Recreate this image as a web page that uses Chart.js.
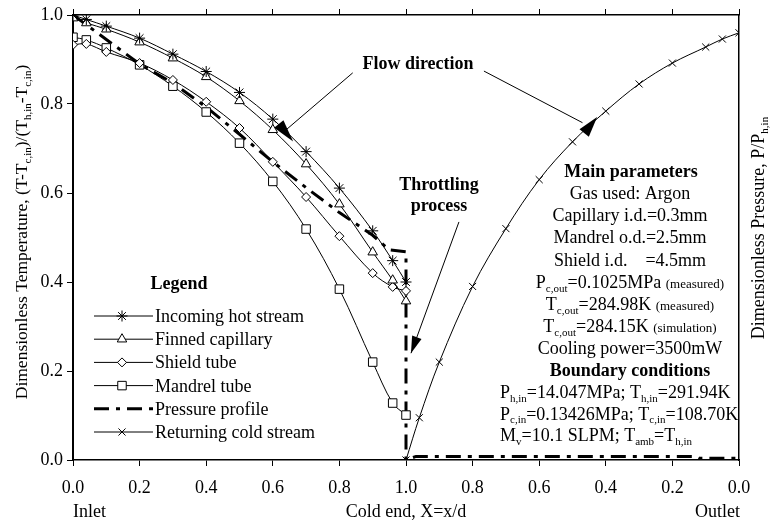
<!DOCTYPE html>
<html>
<head>
<meta charset="utf-8">
<script src="https://cdn.jsdelivr.net/npm/chart.js@4.4.1/dist/chart.umd.min.js"></script>
<style>
  html, body { margin: 0; padding: 0; background: #fff; }
</style>
</head>
<body>
<canvas id="chart" width="770" height="522"></canvas>
<script>
// x runs 0..1 from inlet to cold end, then 1..2 from cold end back to outlet
const xTickValues = [0, 0.2, 0.4, 0.6, 0.8, 1.0, 1.2, 1.4, 1.6, 1.8, 2.0];
const xTickLabels = ['0.0', '0.2', '0.4', '0.6', '0.8', '1.0', '0.8', '0.6', '0.4', '0.2', '0.0'];
const yTickValues = [0, 0.2, 0.4, 0.6, 0.8, 1.0];

const xTemp = [0, 0.04, 0.1, 0.2, 0.3, 0.4, 0.5, 0.6, 0.7, 0.8, 0.9, 0.96, 1.0];
const hotStream = [1.0, 0.99, 0.975, 0.948, 0.912, 0.873, 0.826, 0.766, 0.693, 0.611, 0.515, 0.448, 0.40];
const finnedCapillary = [0.993, 0.982, 0.968, 0.939, 0.903, 0.861, 0.807, 0.742, 0.665, 0.575, 0.467, 0.404, 0.357];
const shieldTube = [0.933, 0.935, 0.917, 0.892, 0.854, 0.805, 0.746, 0.670, 0.591, 0.503, 0.420, 0.389, 0.380];
const mandrelTube = [0.95, 0.944, 0.926, 0.888, 0.840, 0.782, 0.712, 0.626, 0.519, 0.384, 0.220, 0.128, 0.101];

const xPressure = [0, 0.1, 0.2, 0.3, 0.4, 0.5, 0.6, 0.7, 0.8, 0.9, 0.95, 1.0, 1.0, 1.03, 1.87, 1.88, 2.0];
const pressure = [1.0, 0.945, 0.89, 0.847, 0.793, 0.732, 0.67, 0.612, 0.556, 0.505, 0.472, 0.468, 0.0, 0.008, 0.008, 0.004, 0.004];

const xCold = [1.0, 1.04, 1.1, 1.2, 1.3, 1.4, 1.5, 1.6, 1.7, 1.8, 1.9, 1.95, 2.0];
const coldStream = [0.0, 0.095, 0.22, 0.39, 0.52, 0.63, 0.715, 0.784, 0.845, 0.892, 0.928, 0.946, 0.96];

const SERIF = '"Liberation Serif", "DejaVu Serif", serif';
const PRESSURE_DASH = [15, 7, 4, 7];

function pts(xs, ys) {
    return xs.map((x, i) => ({ x, y: ys[i] }));
}

function series(label, xs, ys, pointStyle, radius) {
    return {
        label,
        data: pts(xs, ys),
        showLine: true,
        borderColor: '#000',
        borderWidth: 1,
        tension: 0.35,
        pointStyle,
        pointRadius: radius,
        pointBorderColor: '#000',
        pointBackgroundColor: '#fff',
        pointBorderWidth: 1
    };
}

// text with _{subscript} and ~{small} parts
function richParts(str) {
    return str.split(/(_\{[^}]*\}|~\{[^}]*\})/).filter(s => s).map(s => {
        if (s.startsWith('_{')) return { t: s.slice(2, -1), k: 'sub' };
        if (s.startsWith('~{')) return { t: s.slice(2, -1), k: 'small' };
        return { t: s, k: 'n' };
    });
}

function drawRich(ctx, str, x, y, size, align, bold) {
    const parts = richParts(str);
    const w = bold ? 'bold ' : '';
    const fontFor = k => k === 'sub' ? `${w}${Math.round(size * 0.6)}px ${SERIF}`
        : k === 'small' ? `${w}${Math.round(size * 0.74)}px ${SERIF}` : `${w}${size}px ${SERIF}`;
    let total = 0;
    parts.forEach(p => { ctx.font = fontFor(p.k); p.w = ctx.measureText(p.t).width; total += p.w; });
    let cx = align === 'center' ? x - total / 2 : align === 'right' ? x - total : x;
    ctx.textAlign = 'left';
    ctx.textBaseline = 'alphabetic';
    parts.forEach(p => {
        ctx.font = fontFor(p.k);
        ctx.fillText(p.t, cx, y + (p.k === 'sub' ? size * 0.22 : 0));
        cx += p.w;
    });
}

function arrowHead(ctx, tip, back, halfW) {
    const dx = tip[0] - back[0], dy = tip[1] - back[1];
    const len = Math.hypot(dx, dy);
    const nx = -dy / len * halfW, ny = dx / len * halfW;
    ctx.beginPath();
    ctx.moveTo(tip[0], tip[1]);
    ctx.lineTo(back[0] + nx, back[1] + ny);
    ctx.lineTo(back[0] - nx, back[1] - ny);
    ctx.closePath();
    ctx.fill();
}

const paramLines = [
    'Gas used: Argon',
    'Capillary i.d.=0.3mm',
    'Mandrel o.d.=2.5mm',
    'Shield i.d.    =4.5mm',
    'P_{c,out}=0.1025MPa ~{(measured)}',
    'T_{c,out}=284.98K ~{(measured)}',
    'T_{c,out}=284.15K ~{(simulation)}',
    'Cooling power=3500mW'
];
const boundaryLines = [
    'P_{h,in}=14.047MPa; T_{h,in}=291.94K',
    'P_{c,in}=0.13426MPa; T_{c,in}=108.70K',
    'M_{v}=10.1 SLPM; T_{amb}=T_{h,in}'
];

const annotations = {
    id: 'annotations',
    afterDatasetsDraw(chart) {
        const { ctx, scales } = chart;
        const P = (X, Y) => [scales.x.getPixelForValue(X), scales.y.getPixelForValue(Y)];
        ctx.save();
        ctx.fillStyle = '#000';
        ctx.strokeStyle = '#000';
        ctx.lineWidth = 1;

        // flow direction arrows
        const line = (a, b) => { ctx.beginPath(); ctx.moveTo(a[0], a[1]); ctx.lineTo(b[0], b[1]); ctx.stroke(); };
        line(P(0.84, 0.87), P(0.64, 0.742));
        arrowHead(ctx, P(0.661, 0.716), P(0.618, 0.755), 6);
        line(P(1.234, 0.874), P(1.53, 0.758));
        arrowHead(ctx, P(1.574, 0.771), P(1.535, 0.735), 6);
        // throttling arrow
        const tA = P(1.159, 0.535), tB = P(1.015, 0.24);
        line(tA, tB);
        const d = Math.hypot(tB[0] - tA[0], tB[1] - tA[1]);
        arrowHead(ctx, tB, [tB[0] - (tB[0] - tA[0]) / d * 17, tB[1] - (tB[1] - tA[1]) / d * 17], 5);

        drawRich(ctx, 'Flow direction', 418, 69, 18, 'center', true);
        drawRich(ctx, 'Throttling', 439, 190, 18, 'center', true);
        drawRich(ctx, 'process', 439, 211, 18, 'center', true);

        // parameter block
        drawRich(ctx, 'Main parameters', 631, 177, 18, 'center', true);
        paramLines.forEach((s, i) => drawRich(ctx, s, 630, 199 + i * 22.2, 18, 'center', false));
        drawRich(ctx, 'Boundary conditions', 630, 376, 18, 'center', true);
        boundaryLines.forEach((s, i) => drawRich(ctx, s, 500, 398 + i * 21.5, 18, 'left', false));

        // legend
        drawRich(ctx, 'Legend', 179, 289, 18, 'center', true);
        chart.data.datasets.forEach((ds, i) => {
            const ly = 316 + i * 23.2;
            ctx.save();
            ctx.lineWidth = ds.borderWidth;
            ctx.setLineDash(ds.borderDash || []);
            ctx.beginPath();
            ctx.moveTo(94, ly);
            ctx.lineTo(153, ly);
            ctx.stroke();
            ctx.restore();
            if (ds.pointRadius > 0) {
                ctx.fillStyle = '#fff';
                ctx.strokeStyle = '#000';
                ctx.lineWidth = 1;
                Chart.helpers.drawPoint(ctx, { pointStyle: ds.pointStyle, radius: ds.pointRadius, rotation: 0, borderWidth: 1 }, 122, ly);
                ctx.fillStyle = '#000';
            }
            drawRich(ctx, ds.label, 155, ly + 6, 18, 'left', false);
        });

        // axis titles
        ctx.save();
        ctx.translate(27, 232);
        ctx.rotate(-Math.PI / 2);
        drawRich(ctx, 'Dimensionless Temperature, (T-T_{c,in})/(T_{h,in}-T_{c,in})', 0, 0, 17.5, 'center', false);
        ctx.restore();
        ctx.save();
        ctx.translate(764, 228);
        ctx.rotate(-Math.PI / 2);
        drawRich(ctx, 'Dimensionless Pressure, P/P_{h,in}', 0, 0, 18, 'center', false);
        ctx.restore();

        const area = chart.chartArea;
        drawRich(ctx, 'Inlet', area.left, 517, 18, 'left', false);
        drawRich(ctx, 'Cold end, X=x/d', P(1, 0)[0], 517, 18, 'center', false);
        drawRich(ctx, 'Outlet', area.right + 1, 517, 18, 'right', false);
        ctx.restore();
    }
};

const axisBorder = { display: true, color: '#000', width: 1.5 };
const tickFont = { family: SERIF, size: 18 };

const pressureSet = {
    label: 'Pressure profile',
    data: pts(xPressure, pressure),
    showLine: true,
    borderColor: '#000',
    borderWidth: 3,
    borderDash: PRESSURE_DASH,
    tension: 0,
    pointRadius: 0
};

new Chart(document.getElementById('chart'), {
    type: 'scatter',
    data: {
        datasets: [
            series('Incoming hot stream', xTemp, hotStream, 'star', 5.5),
            series('Finned capillary', xTemp, finnedCapillary, 'triangle', 5.5),
            series('Shield tube', xTemp, shieldTube, 'rectRot', 4.5),
            series('Mandrel tube', xTemp, mandrelTube, 'rect', 6),
            pressureSet,
            series('Returning cold stream', xCold, coldStream, 'crossRot', 5)
        ]
    },
    options: {
        responsive: false,
        animation: false,
        devicePixelRatio: 1,
        layout: { padding: 0 },
        plugins: { legend: { display: false }, tooltip: { enabled: false } },
        scales: {
            x: {
                type: 'linear', position: 'bottom', min: 0, max: 2,
                afterBuildTicks: s => { s.ticks = xTickValues.map(v => ({ value: v })); },
                afterFit: s => { s.height = 62; },
                ticks: { color: '#000', font: tickFont, padding: 11, maxRotation: 0, autoSkip: false,
                         callback: (v, i) => xTickLabels[i] },
                grid: { drawOnChartArea: false, drawTicks: true, tickLength: 6, color: '#000' },
                border: axisBorder
            },
            xTop: {
                type: 'linear', position: 'top', min: 0, max: 2,
                afterBuildTicks: s => { s.ticks = xTickValues.map(v => ({ value: v })); },
                afterFit: s => { s.height = 15; },
                ticks: { display: false },
                grid: { drawOnChartArea: false, drawTicks: true, tickLength: 6, color: '#000' },
                border: axisBorder
            },
            y: {
                type: 'linear', position: 'left', min: 0, max: 1,
                afterBuildTicks: s => { s.ticks = yTickValues.map(v => ({ value: v })); },
                afterFit: s => { s.width = 73; },
                ticks: { color: '#000', font: tickFont, padding: 4, callback: v => v.toFixed(1) },
                grid: { drawOnChartArea: false, drawTicks: true, tickLength: 6, color: '#000' },
                border: { display: true, color: '#000', width: 2 }
            },
            yRight: {
                type: 'linear', position: 'right', min: 0, max: 1,
                afterFit: s => { s.width = 31; },
                ticks: { display: false },
                grid: { display: false },
                border: axisBorder
            }
        }
    },
    plugins: [annotations]
});
</script>
</body>
</html>
